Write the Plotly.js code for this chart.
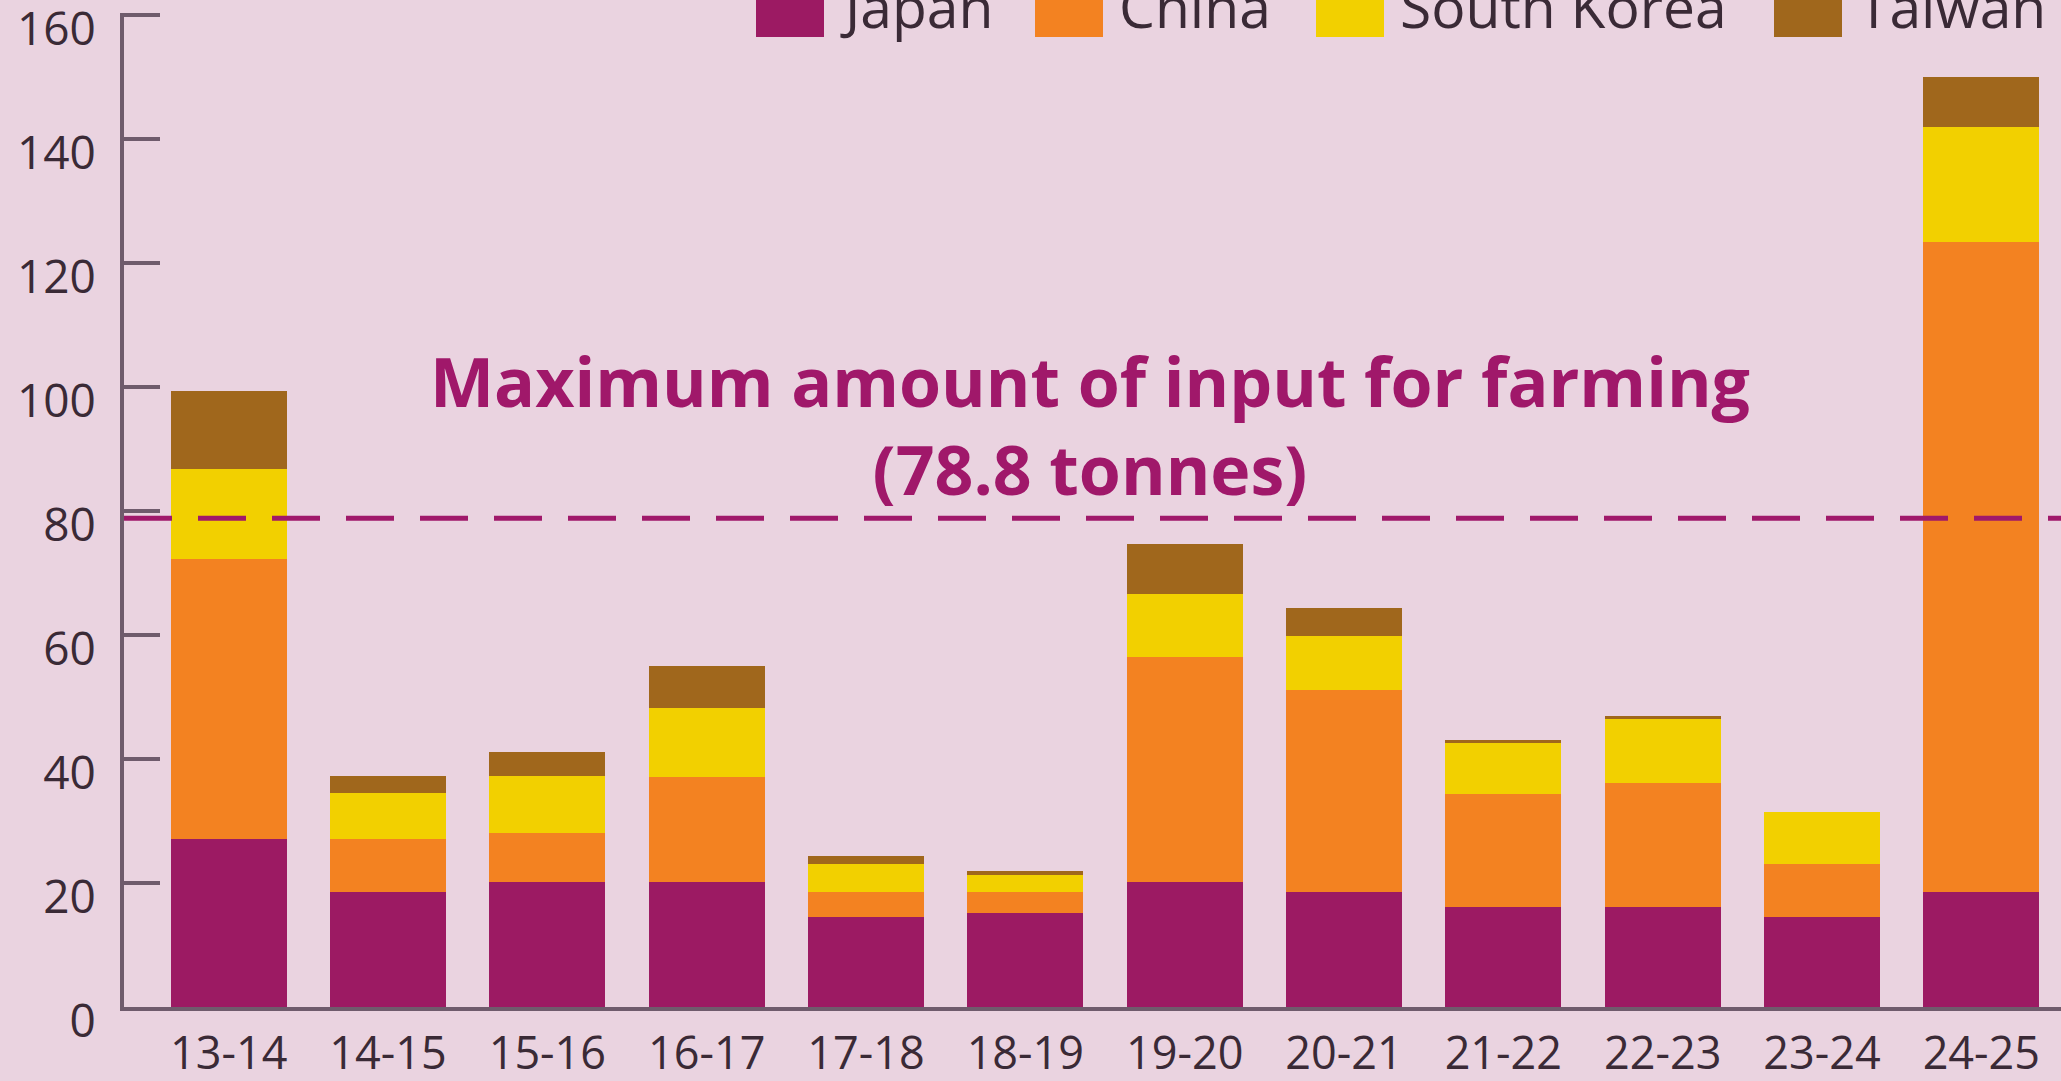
<!DOCTYPE html>
<html>
<head>
<meta charset="utf-8">
<script src="https://cdn.plot.ly/plotly-3.0.1.min.js"></script>
<style>
  html, body { margin: 0; padding: 0; background: #EAD3E0; }
  #chart { width: 2061px; height: 1081px; }
</style>
</head>
<body>
<div id="chart"></div>
<script>
// ---- data ----
const categories = ['13-14','14-15','15-16','16-17','17-18','18-19','19-20','20-21','21-22','22-23','23-24','24-25'];
const japan      = [27.1, 18.5, 20.1, 20.1, 14.5, 15.1, 20.1, 18.5, 16.2, 16.2, 14.5, 18.5];
const china      = [45.1,  8.6,  8.0, 17.0,  4.0,  3.4, 36.3, 32.6, 18.2, 19.9,  8.6, 104.8];
const southKorea = [14.5,  7.4,  9.1, 11.1,  4.6,  2.8, 10.2,  8.7,  8.2, 10.4,  8.3, 18.6];
const taiwan     = [12.6,  2.8,  3.9,  6.8,  1.2,  0.6,  8.1,  4.5,  0.4,  0.4,  0.0,  8.0];
const seriesNames = ['Japan', 'China', 'South Korea', 'Taiwan'];
const yTickValues = [0, 20, 40, 60, 80, 100, 120, 140, 160];
const farmingLimit = 78.8;
const limitLabel = ['Maximum amount of input for farming', '(78.8 tonnes)'];

// ---- styles ----
const colors = ['#9C1A63', '#F38221', '#F2D000', '#A0671C'];
const bg = '#EAD3E0';
const axisColor = '#6F5B6C';
const textColor = '#3A2A36';
const accent = '#A0186A';
const font = 'Open Sans, sans-serif';

const seriesValues = [japan, china, southKorea, taiwan];
const traces = seriesValues.map((vals, i) => ({
  type: 'bar',
  name: seriesNames[i],
  x: categories,
  y: vals,
  marker: { color: colors[i], line: { width: 0 } },
  showlegend: false,
  hoverinfo: 'x+y+name'
}));

// custom legend (large square swatches, cut by the top edge as in the source)
const W = 2061, H = 1081, ML = 124, MR = 0, MT = 13, MB = 74;
const PW = W - ML - MR, PH = H - MT - MB;
const px = v => (v - ML) / PW;          // page px -> paper x
const py = v => (H - MB - v) / PH;      // page px -> paper y
const legendSwatchLeft = [756, 1035, 1316, 1774];
const swatchW = 68;

const shapes = [];
const annotations = [];
seriesNames.forEach((n, i) => {
  const x0 = legendSwatchLeft[i];
  shapes.push({
    type: 'rect', xref: 'paper', yref: 'paper', layer: 'above',
    x0: px(x0), x1: px(x0 + swatchW), y0: py(37), y1: py(-35),
    fillcolor: colors[i], line: { width: 0 }
  });
  annotations.push({
    xref: 'paper', yref: 'paper', x: px(x0 + swatchW + 14), y: py(6),
    xanchor: 'left', yanchor: 'middle', showarrow: false,
    text: n, font: { family: font, size: 57, color: textColor }
  });
});

// limit line
shapes.push({
  type: 'line', xref: 'paper', yref: 'y', layer: 'above',
  x0: 0, x1: 1, y0: farmingLimit, y1: farmingLimit,
  line: { color: accent, width: 5, dash: '48px,26px' }
});
annotations.push({
  xref: 'paper', yref: 'y', x: px(1090), y: 93.9,
  xanchor: 'center', yanchor: 'middle', align: 'center', showarrow: false,
  text: '<b>' + limitLabel[0] + '</b><br><b>' + limitLabel[1] + '</b>',
  font: { family: font, size: 68, color: accent }
});

const layout = {
  width: W, height: H,
  margin: { l: ML, r: MR, t: MT, b: MB, pad: 0 },
  paper_bgcolor: bg, plot_bgcolor: bg,
  barmode: 'stack', bargap: 0.272,
  showlegend: false,
  xaxis: {
    type: 'category', range: [-0.657, 11.5], fixedrange: true,
    showline: true, linecolor: axisColor, linewidth: 4,
    ticks: '', showgrid: false, zeroline: false,
    tickfont: { family: font, size: 45, color: textColor },
    ticklabelstandoff: 4
  },
  yaxis: {
    range: [0, 160.3], fixedrange: true,
    tickmode: 'array', tickvals: yTickValues, ticktext: yTickValues.map(String),
    ticks: 'inside', ticklen: 36, tickwidth: 4, tickcolor: axisColor,
    showline: true, linecolor: axisColor, linewidth: 4,
    showgrid: false, zeroline: false,
    tickfont: { family: font, size: 46, color: textColor },
    ticklabelstandoff: 15, ticklabelshift: 14, ticklabeloverflow: 'allow'
  },
  shapes: shapes,
  annotations: annotations
};

Plotly.newPlot('chart', traces, layout, { displayModeBar: false, staticPlot: true });
</script>
</body>
</html>
